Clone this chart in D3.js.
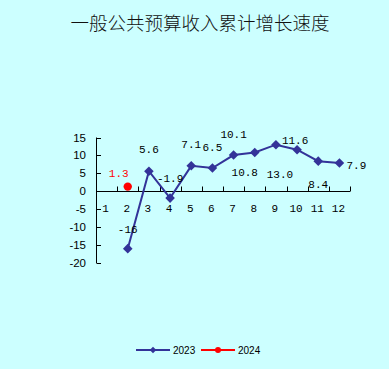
<!DOCTYPE html>
<html lang="zh">
  <head>
    <meta charset="UTF-8" />
    <title>一般公共预算收入累计增长速度</title>
    <script src="https://d3js.org/d3.v7.min.js"></script>
    <style>
      body {
        margin: 0;
        background: #ccffff;
        overflow: hidden;
      }
      .num {
        font-family: "Liberation Mono", "DejaVu Sans Mono", monospace;
        font-size: 11px;
      }
    </style>
  </head>
  <body>
    <svg id="chart"></svg>
    <script>
      const width = 389;
      const height = 369;

      const title = "一般公共预算收入累计增长速度";
      const months = ["1", "2", "3", "4", "5", "6", "7", "8", "9", "10", "11", "12"];
      const yTicks = [15, 10, 5, 0, -5, -10, -15, -20];
      const series2023 = [null, -16, 5.6, -1.9, 7.1, 6.5, 10.1, 10.8, 13.0, 11.6, 8.4, 7.9];
      const labels2023 = ["", "-16", "5.6", "-1.9", "7.1", "6.5", "10.1", "10.8", "13.0", "11.6", "8.4", "7.9"];
      const series2024 = [null, 1.3];
      const labels2024 = ["", "1.3"];

      // label placement relative to the marker
      const offsets2023 = [
        null, [0, -16], [0, -18], [0, -16], [0, -17.5], [0, -17], [0, -17.5],
        [-10, 23], [4, 33], [-2, -6], [0, 27], [17, 6.5]
      ];
      const offsets2024 = [null, [-9, -9.6]];

      const svg = d3
        .select("#chart")
        .attr("width", width)
        .attr("height", height);

      svg
        .append("text")
        .attr("x", 200)
        .attr("y", 30)
        .attr("text-anchor", "middle")
        .attr("font-family", "Noto Sans CJK SC")
        .attr("font-weight", 300)
        .attr("font-size", "18.5px")
        .attr("fill", "#111")
        .text(title);

      const x = d3.scaleBand().domain(months).range([96, 350]);
      const y = d3.scaleLinear().domain([-20, 15]).range([263, 137.5]);

      // y axis
      const yAxis = svg.append("g");
      yAxis
        .append("line")
        .attr("x1", 96.5)
        .attr("x2", 96.5)
        .attr("y1", y(15))
        .attr("y2", y(-20))
        .attr("stroke", "#000");
      yTicks.forEach((t) => {
        yAxis
          .append("line")
          .attr("x1", 96.5)
          .attr("x2", 101)
          .attr("y1", Math.round(y(t)) + 0.5)
          .attr("y2", Math.round(y(t)) + 0.5)
          .attr("stroke", "#000");
        yAxis
          .append("text")
          .attr("x", 86)
          .attr("y", y(t) + 4)
          .attr("text-anchor", "end")
          .attr("font-family", "Liberation Sans")
          .attr("font-size", "11.5px")
          .text(t);
      });

      // x axis at zero
      const y0 = Math.round(y(0)) + 0.5;
      const xAxis = svg.append("g");
      xAxis
        .append("line")
        .attr("x1", 96)
        .attr("x2", 350)
        .attr("y1", y0)
        .attr("y2", y0)
        .attr("stroke", "#000");
      months.forEach((m, i) => {
        const bx = Math.round(x(m) + x.bandwidth()) + 0.5;
        xAxis
          .append("line")
          .attr("x1", bx)
          .attr("x2", bx)
          .attr("y1", y0)
          .attr("y2", y0 - 5)
          .attr("stroke", "#000");
        xAxis
          .append("text")
          .attr("class", "num")
          .attr("x", x(m) + x.bandwidth() / 2 - 1)
          .attr("y", 212)
          .attr("text-anchor", "middle")
          .attr("font-size", "12px")
          .text(m);
      });

      const cx = (i) => x(months[i]) + x.bandwidth() / 2;

      const pts2023 = series2023
        .map((v, i) => ({ v, i }))
        .filter((d) => d.v !== null);

      svg
        .append("path")
        .datum(pts2023)
        .attr("fill", "none")
        .attr("stroke", "#333399")
        .attr("stroke-width", 2)
        .attr("d", d3.line().x((d) => cx(d.i)).y((d) => y(d.v)));

      const diamond = d3.symbol(d3.symbolSquare, 46);
      svg
        .selectAll(".m2023")
        .data(pts2023)
        .enter()
        .append("path")
        .attr("fill", "#333399")
        .attr("d", diamond)
        .attr("transform", (d) => `translate(${cx(d.i)},${y(d.v)}) rotate(45)`);

      svg
        .selectAll(".l2023")
        .data(pts2023)
        .enter()
        .append("text")
        .attr("class", "num")
        .attr("text-anchor", "middle")
        .attr("x", (d) => cx(d.i) + offsets2023[d.i][0])
        .attr("y", (d) => y(d.v) + offsets2023[d.i][1])
        .attr("fill", "#000")
        .text((d) => labels2023[d.i]);

      const pts2024 = series2024
        .map((v, i) => ({ v, i }))
        .filter((d) => d.v !== null);

      svg
        .selectAll(".m2024")
        .data(pts2024)
        .enter()
        .append("circle")
        .attr("cx", (d) => cx(d.i))
        .attr("cy", (d) => y(d.v))
        .attr("r", 4.2)
        .attr("fill", "#ff0000");

      svg
        .selectAll(".l2024")
        .data(pts2024)
        .enter()
        .append("text")
        .attr("class", "num")
        .attr("text-anchor", "middle")
        .attr("x", (d) => cx(d.i) + offsets2024[d.i][0])
        .attr("y", (d) => y(d.v) + offsets2024[d.i][1])
        .attr("fill", "#ff0000")
        .text((d) => labels2024[d.i]);

      // legend
      const legend = svg.append("g").attr("font-family", "Liberation Sans").attr("font-size", "10px");
      legend
        .append("line")
        .attr("x1", 136)
        .attr("x2", 170)
        .attr("y1", 350)
        .attr("y2", 350)
        .attr("stroke", "#333399")
        .attr("stroke-width", 2);
      legend
        .append("path")
        .attr("d", d3.symbol(d3.symbolSquare, 22))
        .attr("fill", "#333399")
        .attr("transform", "translate(153,350) rotate(45)");
      legend.append("text").attr("x", 173).attr("y", 353.5).text("2023");

      legend
        .append("line")
        .attr("x1", 201)
        .attr("x2", 235)
        .attr("y1", 350)
        .attr("y2", 350)
        .attr("stroke", "#ff0000")
        .attr("stroke-width", 2);
      legend
        .append("circle")
        .attr("cx", 218)
        .attr("cy", 350)
        .attr("r", 3)
        .attr("fill", "#ff0000");
      legend.append("text").attr("x", 238).attr("y", 353.5).text("2024");
    </script>
  </body>
</html>
